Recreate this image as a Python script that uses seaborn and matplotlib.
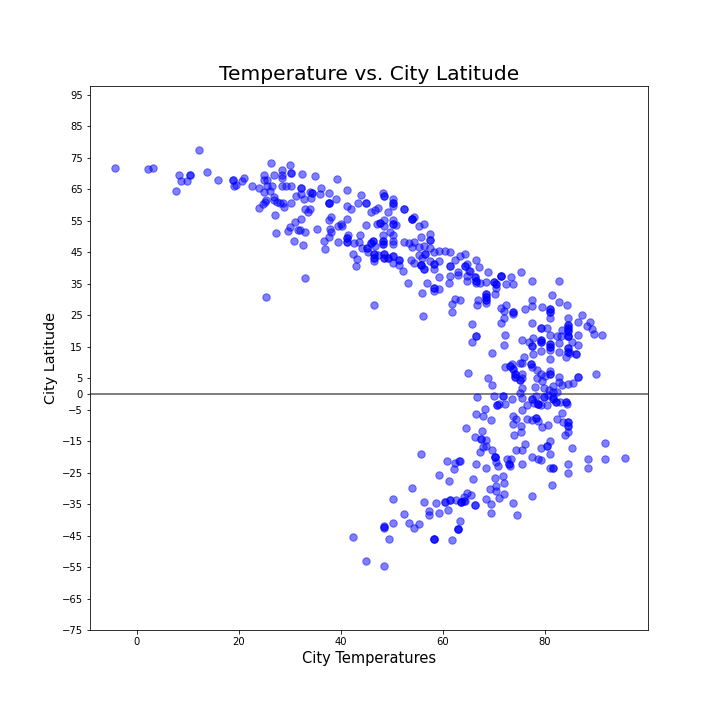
import matplotlib
matplotlib.use("Agg")
import matplotlib.pyplot as plt
import pandas as pd
import seaborn as sns

# Upper-left arm
temps_a = [-4.3,2.2,3.2,12.2,8.3,10.5,10.5,8.7,9.9,7.6,13.8,15.8,18.9,18.9,19,19.4,20.6,21,22.5,24,
           25,25,25.5,26.2,26.8,28.5,28.5,28.5,30.1,30.3,30.3,25.5,26.5,28.5,29.3,30.3,24.9,26,25.4,26.8,
           26.8,27.4,28.1,28.7,28.9,30.3,24,24.8,25.1,27,31.1,30.9,30.1,29.7,31.6,27.2,30.7,25.4]
lats_a = [71.9,71.6,71.9,77.6,69.4,69.4,69.4,67.5,67.7,64.6,70.6,68.1,67.9,67.9,65.9,66.5,67.5,68.7,65.9,65.5,
          69.5,68.1,68.1,73.5,69.5,71,69.5,68.7,72.8,70.3,70.3,66,66.2,65.9,65.9,65.9,64.2,64.4,61.7,62.7,
          61.7,61.1,60.8,60.5,59.5,60.8,59.2,60.2,61.1,56.7,63,54.5,52.9,51.9,52.2,51,48.7,30.8]

# Mid-latitude band
temps_b = [32.4,35,39.2,32.2,32.2,32.2,32.7,34,34.4,34.4,36,35.8,34.2,37.6,39,41.1,43.9,37.7,37.7,37.7,
           41.1,41.9,43.3,44.9,44.9,48.2,48.4,48.4,50.2,50.2,50.2,50.2,47.3,46.6,45.8,49.2,52.3,52.3,32.9,34,
           33.5,38,37.6,32.2,41.1,40,39.4,40.3,35.4,37.8,38,33,32,37.6,36.6,39.4,32.5,36.8,41.3,41.1,
           41.1,41.1,41.1,42.5,43.7,43.5,44.9,47,47.7,47.7,48.4,48.4,50.2,50.2,50.2,50.8,48.2,49.6,50.2,48.2,
           48.2,48.2,48.2,50.2,50.2,46.2,46.2,45.8,45.8,45.2,45.2,44.1,45.4,46.6,42.3,43.1,42.9,46.4,46.4,46.4,
           46.4,46.4,47.2,48.4,48.4,48.4,48.4,49.2,49.2,50.2,50.2,50.2,51.3,51.3,51.3,52.1,53.1,32.9,46.4]
lats_b = [69.8,69.3,68.4,65.5,65.5,63.6,62,64.3,63.9,63.9,65.5,63.6,62.4,63.9,62,64.9,63.3,60.5,60.5,60.5,
          59.8,58.6,60.5,60.8,60.8,63.9,63,63,62,60.5,60.5,59.8,59.2,58.3,57.9,57.9,58.6,58.6,58.8,58.9,
          57.9,56.3,55.4,55.7,55.7,54.1,53.2,53.2,52.5,52.5,51.6,51.6,52.2,49.7,48.7,48.4,47.4,45.9,50.6,49.4,
          49.4,48.3,48.3,48.1,50.6,48.4,53.8,54.1,54.4,54.4,55.4,53.2,55.4,54.1,54.1,53.8,50.6,51.3,50.6,48.7,
          48.7,47.5,47.5,48.7,47.5,48.7,48.7,48.1,48.1,46.5,46.5,46.5,45.2,47.1,44.3,43,40.5,44.6,44.6,43.3,
          43.3,42.2,44,44.6,44.6,43.3,43.3,43.3,43.3,43.7,43.7,41.7,42.7,42.7,41.1,39.2,35.1,36.7,28.1]

# Descending band towards the tropics
temps_c = [53.9,53.9,53.9,54.3,55.3,56.3,57.4,55.7,57.4,57.4,52.3,53.3,54.3,53.9,55.3,56.2,57.4,56.4,56.4,55.3,
           55.9,58.2,59.2,60.4,61.4,53.7,54.3,55.7,55.7,55.7,56.2,56.2,57.4,58.2,58.2,58.2,59.2,59.2,61.4,61.4,
           61.4,62.9,62.9,62.3,63.3,64.3,64.3,64.3,64.8,65.1,64.7,64.7,61.2,56.8,55.9,58.2,58.2,58.2,59.2,62.3,
           61.8,63.3,61.8,56.1,65.7]
lats_c = [55.7,55.7,55.7,56.2,53.5,54.1,50.9,49.7,49,49,48.4,48.1,48.4,46.8,46.8,47.1,46.5,44.6,44.6,44,
          43.3,45.2,45.5,45.5,45.2,42.4,41.7,41.1,41.1,41.1,39.8,39.8,42.1,41.4,41.4,39.8,42.1,37,40.6,40.6,
          37.6,38.8,37.9,42.7,43.7,44.3,40.5,40.5,41.4,38.9,37.6,36,35.1,35.1,32.2,33.5,33.5,32.6,33.2,30,
          28.7,29.7,25.9,24.9,22.1]

# Warm northern tropics
temps_d = [66.4,67.1,65.3,68.8,71.4,71.4,71.4,73.4,75.3,66.3,66.3,66.5,66.5,66.5,67.3,68.4,70,70,70.4,70.4,
           70.4,72.4,73.7,77.5,82.8,70.2,68.4,68.4,68.4,68.4,68.4,68.4,68.4,66.9,66.7,72.4,71.4,72,73.7,73.7,
           73.7,76.1,77.5,77.5,79.4,81.4,82.8,84.4,81,81,81,81,81,72,71.4,66.5,66.5,65.7,72.2,72,
           69.6,77.5,79.2,79.2,80.4,75.5,76.9,77.5,77.5,77.7,79.2,79.2,79.2,79.2,79.2,81,81,81,81,81,
           81,77.7,81,82.8,82.8,82.4,83.4,83.2,84.5,84.5,84.5,84.5,84.5,84.5,84.5,84.5,84.5,84.5,85.3,86.5,
           86.5,84.5,84.5,84.5,84.5,84.2,85,86.1,86.1,86.5,87.3,88.3,88.9,89.3,89.7,91.2,90,86.5,86.5]
lats_d = [42.7,40.2,39.2,38.6,37.6,37.6,37.6,37,38.6,37,37,36,36,35.1,35.1,35.7,35.4,35.4,34.8,34.8,
          33.5,34.8,34.8,36,36,31.6,31.9,31.9,30.7,30.7,29.7,29.7,28.8,29.7,28.1,28.4,27.2,26.5,25.9,25.9,
          25.3,26.9,29.7,27.8,27.5,31.3,29.1,28.4,26.9,26.9,25.9,25.9,24,24,22.4,18.3,18.3,16.4,18.6,15.4,
          12.9,22.4,21.1,21.1,20.8,17,16.4,15.1,15.1,17.7,17,17,16.4,16.4,13.5,18.6,15.8,15.8,14.8,14.8,
          13.9,12.6,11,16.1,13.2,18.3,20.2,18.3,24,21.8,21.8,20.8,20.8,19.9,19.9,18.3,18.3,18.3,16.4,18.6,
          15.4,14.5,14.5,13.2,13.2,11.6,12.9,12.6,12.6,23,25,21.5,22.7,20.5,18.9,18.6,6.2,5.3,5.3]

# Close to the equator
temps_e = [64.9,68.8,69.6,75.9,75.1,72.2,73.2,73.2,73.5,73.7,73.7,75.5,74.1,74.1,74.1,74.1,75.5,75.1,75.1,75.5,
           77.3,77.3,77.5,78.5,79.2,78.5,80,81,81,81,79.4,82.8,82.8,83.4,84.5,85.5,81.6,75.5,78.1,79.8,
           75.1,80.6,81.6,82.4,80.8,66.7,70,71.8,71.8,73.5,75.5,70.6,70.6,71,72.2,68.2,66.5,67.9,69.4,75.5,
           76.5,77.5,77.5,77.9,78.7,78.7,78.7,79.2,78.3,79.8,79.8,80.4,81.6,81.6,81.6,82.2,82.2,83,84.2,84.2,
           84.4]
lats_e = [6.6,5,2.8,11.6,9.7,8.5,8.8,8.8,9.4,7.8,7.8,9.7,6.2,6.2,5.3,5.3,6.2,4.3,4.3,5,
          9.4,9.4,8.5,7.5,6.2,5,5.6,7.2,6.2,6.2,4,5.3,3.7,2.8,3.1,3.4,2.4,1.8,2.1,1.8,
          0.2,-0.4,0.5,0.5,1.2,-1.1,-0.7,-0.7,-0.7,-1.7,-1.4,-3.6,-3.6,-3.3,-3.3,-4.9,-6.5,-7.1,-8.4,-5.2,
          -3.6,-1.7,-1.7,-3,-3.3,-3.3,-3.3,-3.6,-0.7,-1.1,-1.1,-3.6,-1.7,-1.7,-1.1,-2.6,-2.6,-2.6,-2.6,-2.6,
          -3.3]

# Southern tropics
temps_f = [64.5,67.7,66.3,67.5,67.5,68.4,67.9,68.4,67.3,69.6,70.2,70.2,70.2,70.4,70.8,72.6,73.4,73,73,73.2,
           74.3,75.5,76.1,75.5,77.5,78.7,79.2,79.2,80.4,80.4,81,81,81,81.6,81.6,84.5,84.5,85.3,88.5,88.5,
           91.8,91.8,95.6,66.5,68.4,63.3,73.7,74.3,73.7,75.3,75.3,74,76.5,77.5,78.3,78.3,78.7,79.4,80.6,83.4,
           82.4,83.6,84.5,84.5,84.5,84.5,84.5,84]
lats_f = [-10.9,-11.8,-13.7,-14.4,-14.4,-14.7,-16.9,-16.6,-18.5,-17.9,-20.1,-20.1,-20.1,-21.7,-23,-20.7,-20.7,-22.3,-22.3,-23,
          -17.9,-17.9,-16,-22.3,-20.1,-20.7,-21,-17.2,-16.6,-16.6,-15,-19.1,-23.6,-23.6,-23.6,-22.3,-25.2,-17.2,-20.7,-23.6,
          -15.6,-20.7,-20.4,-22.3,-23.6,-21.4,-7.1,-8,-9.6,-10.3,-12.2,-13.1,-8,-8.4,-7.7,-7.7,-8.7,-10.6,-10,-6.1,
          -8,-9,-9,-9,-10.3,-10.3,-12.2,-13.1]

# Southern mid latitudes
temps_g = [65.9,70.2,71.8,72,70.4,70.4,69.2,72,71,68.4,69.4,73.7,77.5,81.4,69.4,74.5,66.3,66.3,64.7,65.5,
           64.2,63.5,63.5,63.5,55.7,60.8,62.3,63.1,62.2,59.2,61.2,53.9,50.2,56.3,58.6,60.4,60.4,61.4,61.4,62.5,
           64.3,64.1,57.2,57.2,59.2,61,52.3,50.2,53.3,55.3,54.3,48.4,48.4,48.4,49.4,42.3,63.4,62.9,62.9,62.9,
           58.2,58.2,58.2,61.8,44.9,48.4]
lats_g = [-27.1,-26.7,-26.1,-28.3,-29.3,-30.9,-30.2,-31.8,-33.1,-33.4,-35,-34.7,-32.5,-29,-37.9,-38.5,-35.3,-35.3,-31.5,-32.1,
          -34,-34.4,-34.4,-34.4,-19.1,-21.4,-22,-21.4,-23.9,-25.8,-27.7,-29.9,-33.4,-34.4,-34.7,-34.4,-34.4,-33.7,-33.7,-33.7,
          -34,-32.8,-37.2,-38.5,-37.9,-36.9,-38.2,-41,-41,-41.3,-42.6,-42,-42.3,-42.6,-46.1,-45.5,-40.4,-42.9,-42.9,-42.9,
          -46.1,-46.1,-46.1,-46.4,-53.1,-54.7]

x_ticks = [0, 20, 40, 60, 80]
y_ticks = [95, 85, 75, 65, 55, 45, 35, 25, 15, 5, 0, -5, -15, -25, -35, -45, -55, -65, -75]

df = pd.DataFrame({
    "temp": temps_a + temps_b + temps_c + temps_d + temps_e + temps_f + temps_g,
    "lat": lats_a + lats_b + lats_c + lats_d + lats_e + lats_f + lats_g,
})

sns.set_style("white")
plt.rcParams["font.family"] = "DejaVu Sans"
fig, ax = plt.subplots(figsize=(10, 10), dpi=72)
fig.subplots_adjust(left=0.125, right=0.9, top=0.88, bottom=0.125)

sns.scatterplot(data=df, x="temp", y="lat", color="blue", alpha=0.5, s=55,
                edgecolor="blue", linewidth=1, ax=ax, zorder=3)
ax.axhline(0, color="gray", linewidth=2, zorder=2)

ax.set_xlim(-9.2, 100.2)
ax.set_ylim(-75, 97.7)
ax.set_xticks(x_ticks)
ax.set_yticks(y_ticks)
ax.tick_params(axis="both", length=3.5, width=0.8, labelsize=10, color="black",
               labelcolor="black", bottom=True, left=True)
for s in ax.spines.values():
    s.set_color("black")
    s.set_linewidth(0.8)
ax.set_title("Temperature vs. City Latitude", fontsize=20.2, color="black")
ax.set_xlabel("City Temperatures", fontsize=14.6, color="black")
ax.set_ylabel("City Latitude", fontsize=14.4, color="black")

fig.savefig("out.png", dpi=72)
